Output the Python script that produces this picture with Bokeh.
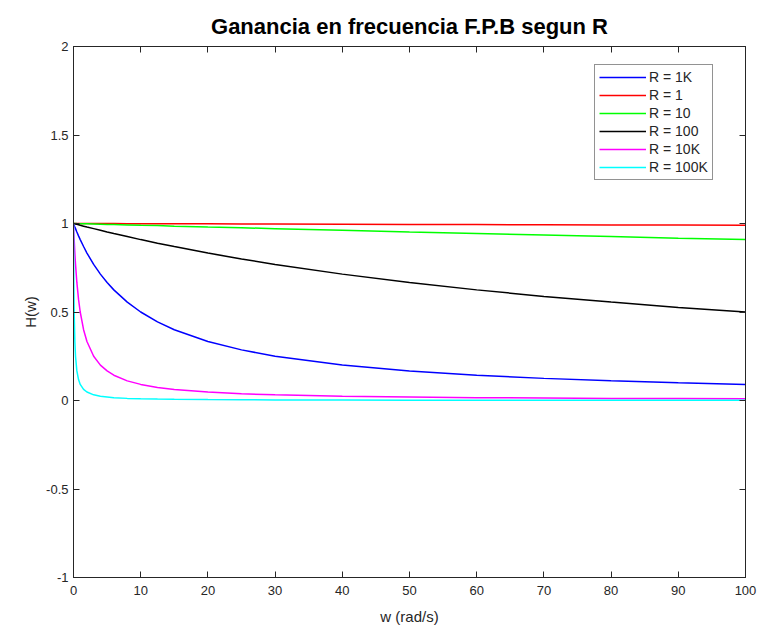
from bokeh.plotting import figure
from bokeh.models import LinearAxis, Range1d, FixedTicker
from bokeh.embed import file_html
from bokeh.resources import INLINE

# ---- data ----
w = [0, 0.05, 0.1, 0.2, 0.3, 0.5, 0.75, 1, 1.5, 2, 3, 4, 5, 6, 8, 10, 12.5, 15,
     20, 25, 30, 40, 50, 60, 70, 80, 90, 100]

h_1k = [1, 0.995, 0.990, 0.980, 0.971, 0.952, 0.930, 0.909, 0.870, 0.833, 0.769,
        0.714, 0.667, 0.625, 0.556, 0.500, 0.444, 0.400, 0.333, 0.286, 0.250,
        0.200, 0.167, 0.143, 0.125, 0.111, 0.100, 0.091]
h_1 = [1, 1, 1, 1, 1, 1, 1, 1, 1, 1, 0.9997, 0.9996, 0.9995, 0.9994, 0.9992,
       0.999, 0.9988, 0.9985, 0.998, 0.9975, 0.997, 0.996, 0.995, 0.994, 0.993,
       0.992, 0.991, 0.990]
h_10 = [1, 1, 1, 1, 1, 0.9995, 0.999, 0.999, 0.9985, 0.998, 0.997, 0.996, 0.995,
        0.994, 0.992, 0.990, 0.988, 0.985, 0.980, 0.976, 0.971, 0.962, 0.952,
        0.943, 0.935, 0.926, 0.917, 0.909]
h_100 = [1, 0.9995, 0.999, 0.998, 0.997, 0.995, 0.993, 0.990, 0.985, 0.980, 0.971,
         0.962, 0.952, 0.943, 0.926, 0.909, 0.889, 0.870, 0.833, 0.800, 0.769,
         0.714, 0.667, 0.625, 0.588, 0.556, 0.526, 0.500]
h_10k = [1, 0.952, 0.909, 0.833, 0.769, 0.667, 0.571, 0.500, 0.400, 0.333, 0.250,
         0.200, 0.167, 0.143, 0.111, 0.091, 0.074, 0.0625, 0.048, 0.038, 0.032,
         0.024, 0.020, 0.016, 0.014, 0.012, 0.011, 0.010]
h_100k = [1, 0.667, 0.500, 0.333, 0.250, 0.167, 0.118, 0.091, 0.0625, 0.048, 0.032,
          0.024, 0.020, 0.016, 0.012, 0.0099, 0.0079, 0.0066, 0.005, 0.004, 0.0033,
          0.0025, 0.002, 0.0017, 0.0014, 0.0012, 0.0011, 0.001]

labels = ["R = 1K", "R = 1", "R = 10", "R = 100", "R = 10K", "R = 100K"]
values = [h_1k, h_1, h_10, h_100, h_10k, h_100k]
colors = ["#0000ff", "#ff0000", "#00ff00", "#000000", "#ff00ff", "#00ffff"]

x_ticks = [0, 10, 20, 30, 40, 50, 60, 70, 80, 90, 100]
y_ticks = [-1, -0.5, 0, 0.5, 1, 1.5, 2]

FONT = "Liberation Sans"
AX = "#262626"

p = figure(width=760, height=628, output_backend="svg", toolbar_location=None,
           x_range=Range1d(0, 100), y_range=Range1d(-1, 2),
           x_axis_label="w (rad/s)", y_axis_label="H(w)",
           min_border_left=73, min_border_right=15, min_border_top=46,
           min_border_bottom=51)
p.title.text = "Ganancia en frecuencia F.P.B segun R"
p.title.align = "center"
p.title.vertical_align = "top"
p.title.text_font = FONT
p.title.text_font_size = "22px"
p.title.text_font_style = "bold"
p.title.text_color = "#000000"
p.title.standoff = 12

p.grid.visible = False
p.outline_line_color = AX
p.outline_line_width = 1
p.background_fill_color = "white"
p.border_fill_color = "white"

for label, vals, color in zip(labels, values, colors):
    p.line(w, vals, line_color=color, line_width=1.5, legend_label=label)

def style_axis(ax, ticks, show_labels=True):
    ax.ticker = FixedTicker(ticks=ticks)
    ax.minor_tick_line_color = None
    ax.major_tick_in = 6
    ax.major_tick_out = 0
    ax.axis_line_color = AX
    ax.major_tick_line_color = AX
    ax.major_label_text_font = FONT
    ax.major_label_text_font_size = "13px"
    ax.major_label_text_color = AX
    ax.axis_label_text_font = FONT
    ax.axis_label_text_font_size = "15px"
    ax.axis_label_text_font_style = "normal"
    ax.axis_label_text_color = AX
    if not show_labels:
        ax.major_label_text_alpha = 0
        ax.major_label_text_font_size = "1px"

style_axis(p.xaxis[0], x_ticks)
style_axis(p.yaxis[0], y_ticks)
p.xaxis[0].major_label_overrides = {0: "0"}
p.yaxis[0].major_label_overrides = {-1: "-1", -0.5: "-0.5", 0: "0", 0.5: "0.5",
                                    1: "1", 1.5: "1.5", 2: "2"}
p.xaxis[0].major_label_standoff = 8
p.xaxis[0].axis_label_standoff = 10
p.yaxis[0].axis_label_standoff = 4

top = LinearAxis()
style_axis(top, x_ticks, show_labels=False)
p.add_layout(top, "above")
right = LinearAxis()
style_axis(right, y_ticks, show_labels=False)
p.add_layout(right, "right")

legend = p.legend[0]
legend.location = (521, 397)
legend.label_text_font = FONT
legend.label_text_font_size = "14px"
legend.label_text_color = AX
legend.border_line_color = AX
legend.border_line_width = 1
legend.glyph_width = 47
legend.glyph_height = 14
legend.label_height = 14
legend.spacing = 2
legend.padding = 4
legend.margin = 0
legend.label_standoff = 3
legend.background_fill_alpha = 1

open("out.html", "w").write(file_html(p, INLINE))
